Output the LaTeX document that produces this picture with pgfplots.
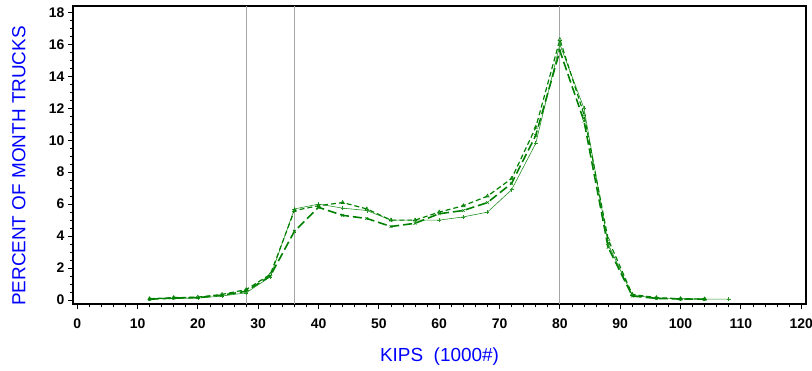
\documentclass[border=0pt]{standalone}
\usepackage{fontspec}
\setmainfont{Liberation Sans}
\usepackage{pgfplots}
\pgfplotsset{compat=1.18}
\definecolor{sasgreen}{RGB}{0,128,0}
\definecolor{labblue}{RGB}{0,0,255}
\definecolor{refgray}{RGB}{165,165,165}
\begin{document}
\begin{tikzpicture}
\begin{axis}[
  scale only axis, width=733bp, height=298bp,
  xmin=-0.7, xmax=120.8, ymin=-0.25, ymax=18.4,
  xtick={0,10,...,120}, ytick={0,2,...,18},
  minor x tick num=4, minor y tick num=3,
  tick align=outside, tick pos=left,
  major tick length=5bp, minor tick length=3bp,
  every tick/.style={black, line width=0.8pt},
  axis line style={black, line width=1.2pt},
  /pgf/number format/assume math mode=true,
  ticklabel style={font=\fontsize{14}{14}\selectfont\bfseries},
  xticklabel style={yshift=-6bp},
  xlabel={KIPS\ \ (1000\#)}, ylabel={PERCENT OF MONTH TRUCKS},
  label style={font=\fontsize{19}{19}\selectfont, text=labblue},
  xlabel style={yshift=-13bp},
  ylabel style={at={(axis description cs:-0.0737,0.463)}, anchor=center, rotate=0},
  clip=false,
]
\addplot[refgray, line width=0.8pt, forget plot] coordinates {(28,-0.25) (28,18.4)};
\addplot[refgray, line width=0.8pt, forget plot] coordinates {(36,-0.25) (36,18.4)};
\addplot[refgray, line width=0.8pt, forget plot] coordinates {(80,-0.25) (80,18.4)};
\addplot[sasgreen!85, line width=0.6pt, mark=+, mark size=2pt] coordinates {
(12,0.05) (16,0.1) (20,0.12) (24,0.25) (28,0.45) (32,1.45) (36,5.7) (40,6.0) (44,5.75) (48,5.6) (52,5.0) (56,5.0) (60,5.0) (64,5.2) (68,5.5) (72,6.9) (76,9.8) (80,16.0) (84,12.0) (88,3.5) (92,0.3) (96,0.12) (100,0.08) (104,0.06) (108,0.05)};
\addplot[sasgreen, line width=1.6pt, dash pattern=on 9pt off 4pt, mark=x, mark size=2pt, mark options={solid, line width=0.6pt}] coordinates {
(12,0.05) (16,0.12) (20,0.15) (24,0.3) (28,0.55) (32,1.5) (36,4.3) (40,5.8) (44,5.3) (48,5.1) (52,4.6) (56,4.8) (60,5.4) (64,5.6) (68,6.1) (72,7.3) (76,10.3) (80,15.6) (84,11.2) (88,3.3) (92,0.25) (96,0.1) (100,0.06) (104,0.05)};
\addplot[sasgreen, line width=1.2pt, dash pattern=on 5pt off 3pt, mark=triangle, mark size=2pt, mark options={solid, line width=0.6pt}] coordinates {
(12,0.08) (16,0.15) (20,0.18) (24,0.35) (28,0.65) (32,1.6) (36,5.6) (40,5.9) (44,6.1) (48,5.7) (52,5.0) (56,5.0) (60,5.5) (64,5.9) (68,6.5) (72,7.6) (76,10.8) (80,16.3) (84,11.6) (88,3.8) (92,0.35) (96,0.15) (100,0.08) (104,0.06)};
\end{axis}
\pgfresetboundingbox
\path ([shift={(-73bp,-67bp)}]current axis.south west) rectangle ([shift={(6bp,6bp)}]current axis.north east);
\end{tikzpicture}
\end{document}
